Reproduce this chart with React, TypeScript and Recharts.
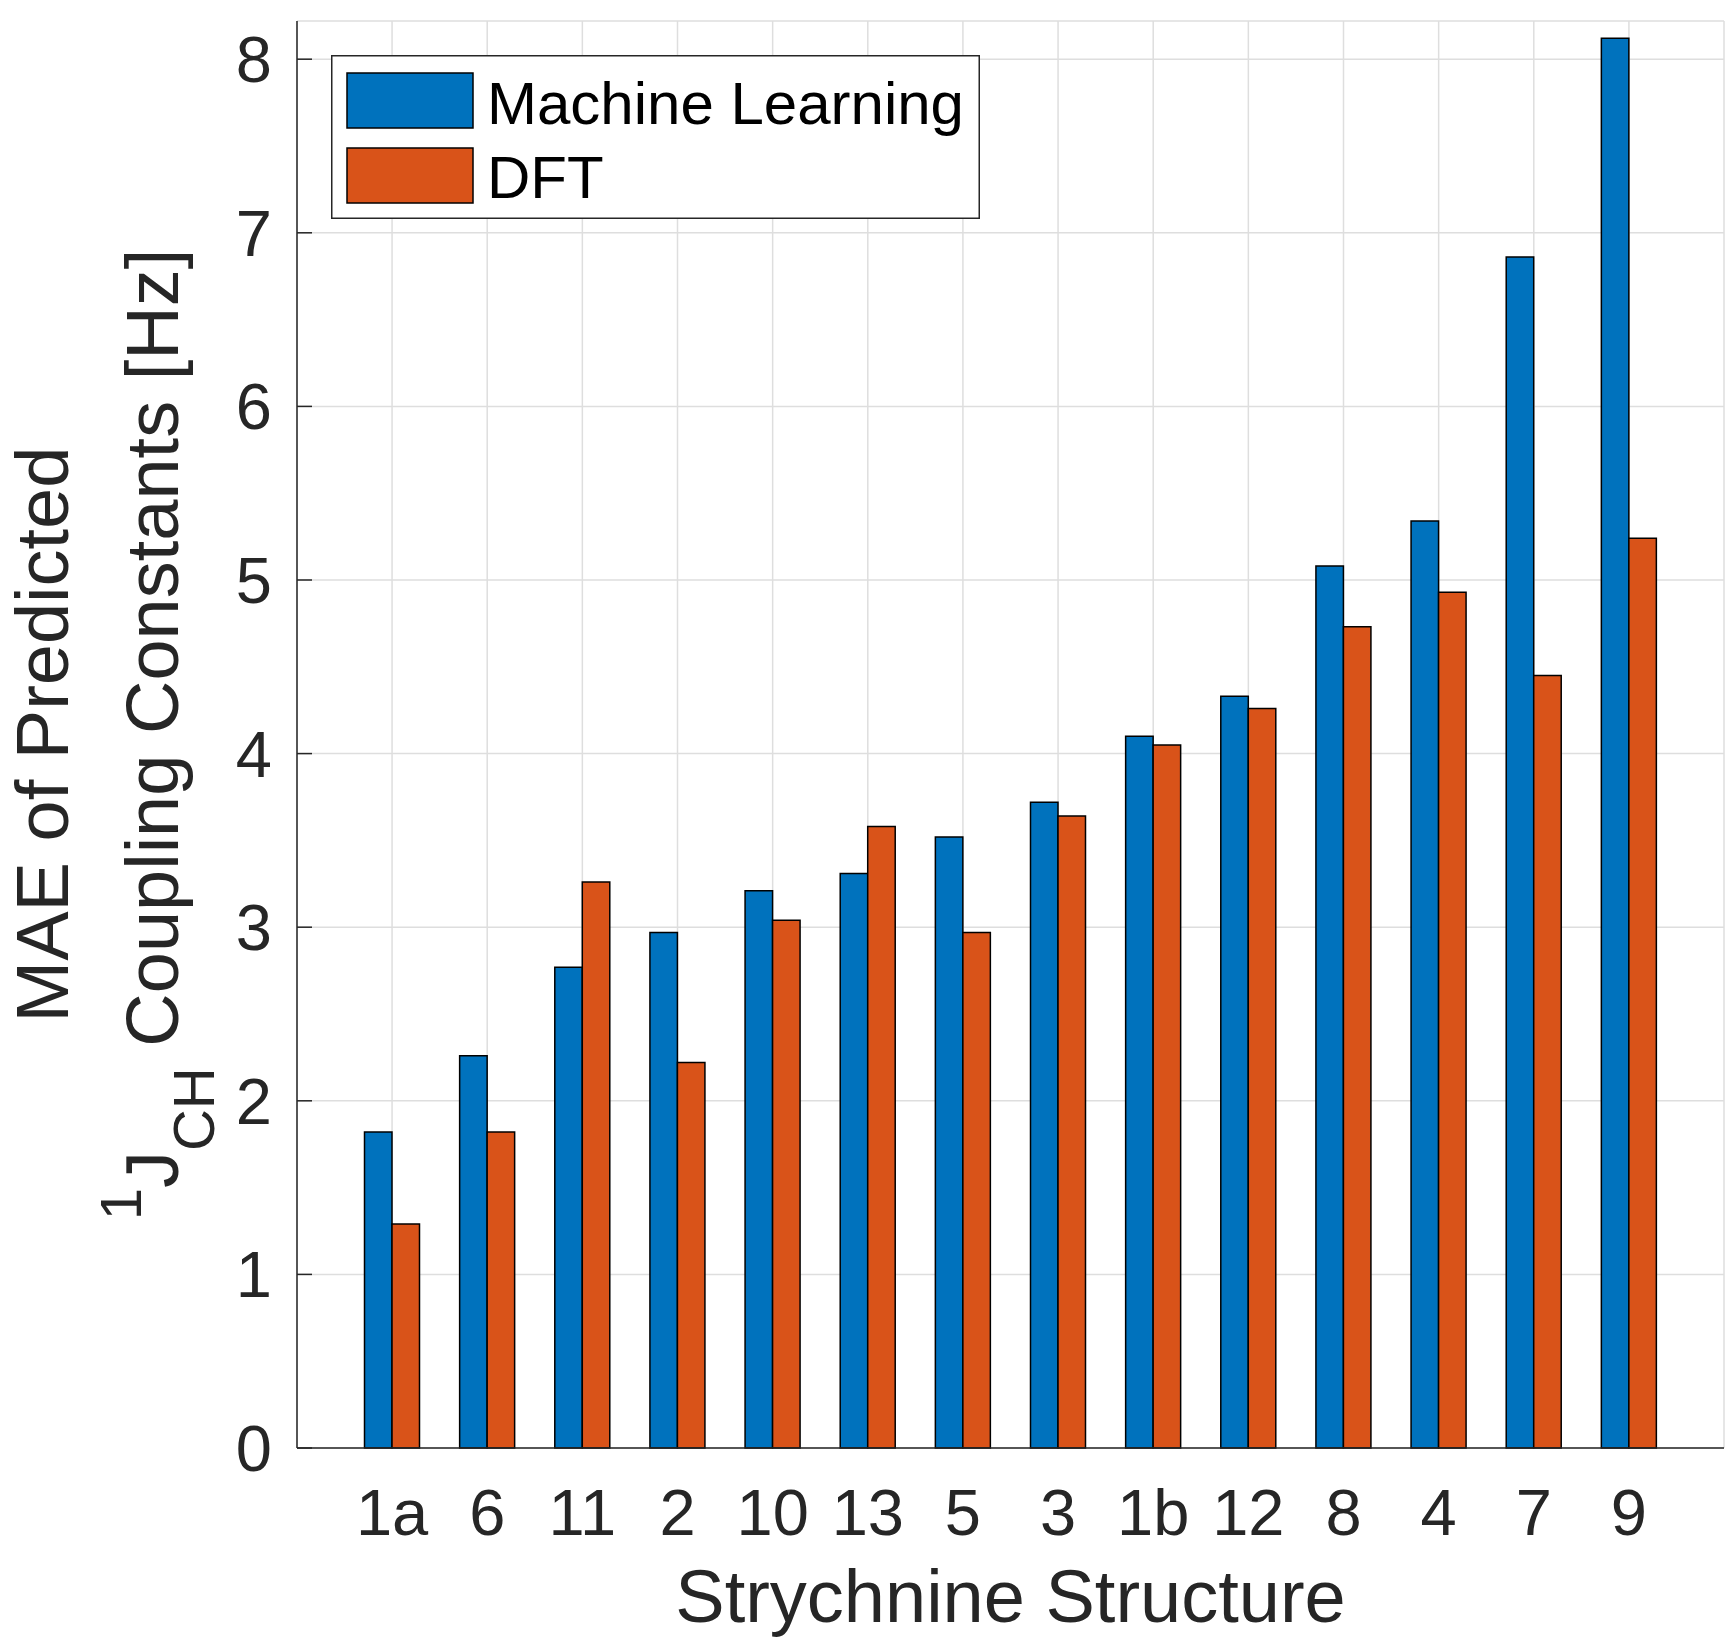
import React from 'react';
import { BarChart, Bar, XAxis, YAxis, CartesianGrid, Legend } from 'recharts';

const structures = ['1a', '6', '11', '2', '10', '13', '5', '3', '1b', '12', '8', '4', '7', '9'];
const machineLearning = [1.82, 2.26, 2.77, 2.97, 3.21, 3.31, 3.52, 3.72, 4.1, 4.33, 5.08, 5.34, 6.86, 8.12];
const dft = [1.29, 1.82, 3.26, 2.22, 3.04, 3.58, 2.97, 3.64, 4.05, 4.26, 4.73, 4.93, 4.45, 5.24];
const seriesNames = ['Machine Learning', 'DFT'];
const yTicks = [0, 1, 2, 3, 4, 5, 6, 7, 8];

const data = structures.map((name, i) => ({
  name,
  ml: machineLearning[i],
  dft: dft[i],
}));

const FONT = '"Liberation Sans", Arial, Helvetica, sans-serif';
const AXIS_COLOR = '#262626';

const YAxisTitle = (props: any) => {
  const { viewBox } = props;
  const cy = viewBox.y + viewBox.height / 2;
  return (
    <g fontFamily={FONT} fill={AXIS_COLOR}>
      <text x={68} y={cy} transform={`rotate(-90, 68, ${cy})`} textAnchor="middle" fontSize={74}>
        MAE of Predicted
      </text>
      <text x={178} y={cy} transform={`rotate(-90, 178, ${cy})`} textAnchor="middle" fontSize={74}>
        <tspan fontSize={58} dy={-37}>1</tspan>
        <tspan dy={37}>J</tspan>
        <tspan fontSize={58} dy={36}>CH</tspan>
        <tspan dy={-36}> Coupling Constants [Hz]</tspan>
      </text>
    </g>
  );
};

const XAxisTitle = (props: any) => {
  const { viewBox } = props;
  return (
    <text
      x={viewBox.x + viewBox.width / 2}
      y={viewBox.y + 174}
      textAnchor="middle"
      fontSize={74}
      fontFamily={FONT}
      fill={AXIS_COLOR}
    >
      Strychnine Structure
    </text>
  );
};

const LegendBox = ({ payload }: any) => {
  // keep the series order, not the alphabetical one
  const items = [...(payload || [])].sort(
    (a: any, b: any) => seriesNames.indexOf(a.value) - seriesNames.indexOf(b.value)
  );
  return (
    <svg width={649} height={164} style={{ display: 'block' }}>
      <rect x={0.75} y={0.75} width={647.5} height={162.5} fill="#fff" stroke={AXIS_COLOR} strokeWidth={1.5} />
      {items.map((entry: any, i: number) => (
        <g key={entry.value}>
          <rect x={16} y={18 + i * 75} width={126} height={55} fill={entry.color} stroke="#000" strokeWidth={1.5} />
          <text x={156} y={69 + i * 74} fontSize={60} fontFamily={FONT} fill="#000">
            {entry.value}
          </text>
        </g>
      ))}
    </svg>
  );
};

export default function App() {
  return (
    <div style={{ position: 'absolute', left: 0, top: 0, background: '#fff' }}>
      <BarChart
        width={1732}
        height={1640}
        data={data}
        margin={{ top: 21, right: 8, bottom: 0, left: 0 }}
        barGap={0}
        barSize={27.5}
      >
        <CartesianGrid stroke="#dedede" strokeWidth={1.5} />
        <XAxis
          dataKey="name"
          height={192}
          padding={{ left: 47.5, right: 47.5 }}
          tickLine={false}
          tickSize={0}
          tickMargin={41}
          tick={{ fontSize: 65, fontFamily: FONT, fill: AXIS_COLOR }}
          axisLine={{ stroke: AXIS_COLOR, strokeWidth: 1.5 }}
          interval={0}
          label={<XAxisTitle />}
        />
        <YAxis
          type="number"
          width={297}
          domain={[0, 8.22]}
          ticks={yTicks}
          interval={0}
          tickSize={-15}
          tickMargin={40}
          tickLine={{ stroke: AXIS_COLOR, strokeWidth: 1.5 }}
          tick={{ fontSize: 65, fontFamily: FONT, fill: AXIS_COLOR }}
          axisLine={{ stroke: AXIS_COLOR, strokeWidth: 1.5 }}
          label={<YAxisTitle />}
        />
        <Legend
          layout="vertical"
          align="center"
          verticalAlign="middle"
          wrapperStyle={{ left: 331, top: 55, width: 649, height: 164 }}
          content={<LegendBox />}
        />
        <Bar dataKey="ml" name={seriesNames[0]} fill="#0072BD" stroke="#000" strokeWidth={1.5} isAnimationActive={false} />
        <Bar dataKey="dft" name={seriesNames[1]} fill="#D95319" stroke="#000" strokeWidth={1.5} isAnimationActive={false} />
      </BarChart>
    </div>
  );
}
